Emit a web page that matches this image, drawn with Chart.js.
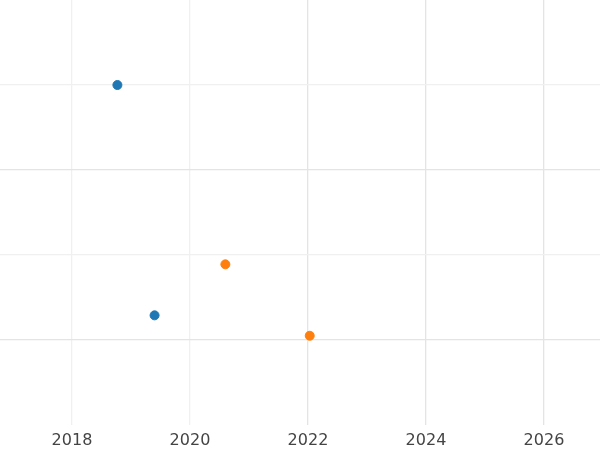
<!DOCTYPE html>
<html><head><meta charset="utf-8">
<script src="https://cdn.jsdelivr.net/npm/chart.js@4"></script>
<style>html,body{margin:0;padding:0;background:#fff}#w{width:600px;height:450px}</style>
</head><body><div id="w"><canvas id="c"></canvas></div>
<script>
const blueX = [2018.77, 2019.4];
const blueY = [4.0, 1.29];
const orangeX = [2020.6, 2022.03];
const orangeY = [1.89, 1.05];
const xTicks = [2018, 2020, 2022, 2024, 2026];
const yTicks = [1, 2, 3, 4];
const pts = (xs, ys) => xs.map((x, i) => ({x, y: ys[i]}));
new Chart(document.getElementById('c'), {
  type: 'scatter',
  data: {datasets: [
    {data: pts(blueX, blueY), backgroundColor: '#1f77b4', borderColor: '#1f77b4', pointRadius: 4.5},
    {data: pts(orangeX, orangeY), backgroundColor: '#ff7f0e', borderColor: '#ff7f0e', pointRadius: 4.5}
  ]},
  options: {
    responsive: true, maintainAspectRatio: false, animation: false,
    layout: {padding: 0, autoPadding: false},
    plugins: {legend: {display: false}, tooltip: {enabled: false}},
    scales: {
      x: {type: 'linear', min: 2016.78, max: 2026.95,
        afterBuildTicks: a => { a.ticks = xTicks.map(v => ({value: v})); },
        ticks: {font: {family: 'DejaVu Sans', size: 16}, color: '#444', padding: 6, callback: v => String(v)},
        afterFit: a => { a.height = 25; },
        grid: {color: c => (c.tick && c.tick.value >= 2022) ? '#e4e4e4' : '#f0f0f0', drawTicks: false, lineWidth: 1.3},
        border: {display: false}},
      y: {min: 0, max: 5,
        afterBuildTicks: a => { a.ticks = yTicks.map(v => ({value: v})); },
        ticks: {display: false},
        afterFit: a => { a.width = 0; },
        grid: {color: c => (c.tick && c.tick.value % 2 === 1) ? '#e4e4e4' : '#f0f0f0', drawTicks: false, lineWidth: 1.3},
        border: {display: false}}
    }
  }
});
</script></body></html>
